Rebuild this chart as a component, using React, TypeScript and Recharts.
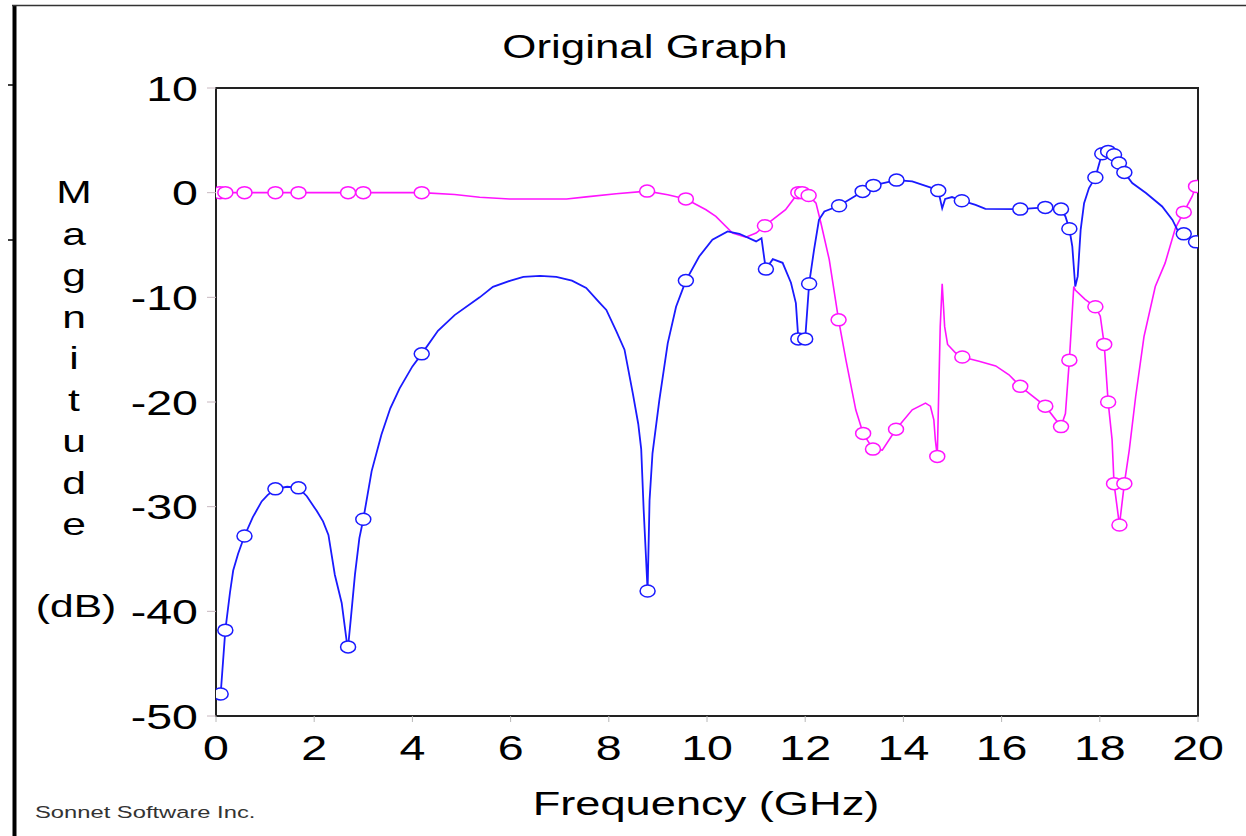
import { ReferenceArea, Scatter, ScatterChart, XAxis, YAxis } from 'recharts'

// [frequency GHz, magnitude dB, marker]
const blueTrace: [number, number, number][] = [
  [0.095, -47.9, 1], [0.19, -41.8, 1], [0.285, -38.2, 0], [0.35, -36.1, 0], [0.45, -34.5, 0],
  [0.58, -32.8, 1], [0.75, -31.0, 0], [0.93, -29.5, 0], [1.05, -28.9, 0], [1.21, -28.3, 1],
  [1.45, -28.1, 0], [1.68, -28.2, 1], [1.85, -29.0, 0], [2.05, -30.4, 0], [2.18, -31.4, 0],
  [2.29, -32.7, 0], [2.42, -36.5, 0], [2.56, -39.2, 0], [2.66, -42.8, 0], [2.69, -43.4, 1],
  [2.75, -40.5, 0], [2.83, -36.5, 0], [2.92, -33.0, 0], [3.0, -31.2, 1], [3.17, -26.6, 0],
  [3.37, -23.1, 0], [3.55, -20.6, 0], [3.74, -18.7, 0], [4.0, -16.6, 0], [4.19, -15.4, 1],
  [4.52, -13.2, 0], [4.86, -11.7, 0], [5.37, -10.0, 0], [5.64, -9.0, 0], [6.0, -8.4, 0],
  [6.26, -8.05, 0], [6.6, -7.95, 0], [6.93, -8.05, 0], [7.25, -8.4, 0], [7.54, -9.1, 0],
  [7.81, -10.5, 0], [7.95, -11.2, 0], [8.15, -13.2, 0], [8.32, -15.0, 0], [8.49, -19.2, 0],
  [8.6, -22.1, 0], [8.66, -24.5, 0], [8.71, -30.3, 0], [8.76, -35.1, 0], [8.79, -38.06, 1],
  [8.83, -29.4, 0], [8.89, -24.9, 0], [9.03, -19.8, 0], [9.2, -14.4, 0], [9.37, -10.9, 0],
  [9.57, -8.4, 1], [9.84, -6.1, 0], [10.11, -4.5, 0], [10.42, -3.7, 0], [10.66, -3.93, 0],
  [11.0, -4.66, 0], [11.11, -4.35, 0], [11.17, -6.4, 0], [11.2, -7.3, 1], [11.34, -6.35, 0],
  [11.54, -6.7, 0], [11.71, -8.6, 0], [11.81, -10.55, 0], [11.86, -13.97, 1], [12.0, -13.97, 1],
  [12.08, -8.7, 1], [12.18, -5.46, 0], [12.28, -2.6, 0], [12.39, -1.8, 0], [12.69, -1.25, 1],
  [13.17, 0.12, 1], [13.39, 0.69, 1], [13.86, 1.2, 1], [14.18, 1.07, 0], [14.59, 0.44, 0],
  [14.71, 0.2, 1], [14.79, -1.5, 0], [14.85, -0.6, 0], [14.99, -0.42, 0], [15.19, -0.77, 1],
  [15.47, -1.16, 0], [15.67, -1.55, 0], [16.38, -1.57, 1], [16.89, -1.41, 1], [17.21, -1.57, 1],
  [17.3, -2.27, 0], [17.38, -3.45, 1], [17.44, -5.14, 0], [17.47, -7.05, 0], [17.5, -8.97, 0],
  [17.55, -8.0, 0], [17.61, -3.55, 0], [17.68, -1.0, 0], [17.78, 0.44, 0], [17.91, 1.45, 1],
  [18.01, 3.14, 0], [18.05, 3.72, 1], [18.17, 3.94, 1], [18.29, 3.62, 1], [18.39, 2.83, 1],
  [18.5, 1.93, 1], [18.66, 0.92, 0], [18.94, -0.04, 0], [19.27, -1.32, 0], [19.48, -2.6, 0],
  [19.58, -3.55, 0], [19.71, -3.93, 1], [19.88, -4.5, 0], [19.96, -4.7, 1],
]

const pinkTrace: [number, number, number][] = [
  [0.08, 0, 1], [0.19, 0, 1], [0.58, 0, 1], [1.21, 0, 1], [1.68, 0, 1], [2.69, 0, 1],
  [3.0, 0, 1], [4.19, 0, 1], [4.86, -0.17, 0], [5.37, -0.44, 0], [5.98, -0.6, 0], [7.14, -0.6, 0],
  [7.54, -0.4, 0], [8.15, -0.1, 0], [8.78, 0.15, 1], [9.2, -0.2, 0], [9.57, -0.6, 1],
  [9.98, -1.63, 0], [10.18, -2.27, 0], [10.52, -3.86, 0], [10.79, -4.25, 0], [11.0, -3.86, 0],
  [11.18, -3.16, 1], [11.6, -1.63, 0], [11.86, 0, 1], [11.94, 0, 1], [12.07, -0.27, 1],
  [12.22, -1.0, 0], [12.32, -2.9, 0], [12.49, -6.4, 0], [12.68, -12.15, 1], [12.83, -16.0, 0],
  [13.03, -20.75, 0], [13.18, -23.0, 1], [13.38, -24.5, 1], [13.57, -24.6, 0], [13.85, -22.6, 1],
  [14.18, -20.75, 0], [14.45, -20.1, 0], [14.55, -20.4, 0], [14.62, -21.7, 0], [14.65, -23.6, 0],
  [14.69, -25.2, 1], [14.75, -12.8, 0], [14.79, -8.7, 0], [14.84, -12.8, 0], [14.9, -14.5, 0],
  [15.06, -15.3, 0], [15.2, -15.7, 1], [15.54, -16.1, 0], [15.88, -16.55, 0], [16.15, -17.4, 0],
  [16.38, -18.5, 1], [16.89, -20.4, 1], [17.21, -22.35, 1], [17.3, -21.1, 0], [17.38, -16.0, 1],
  [17.47, -8.97, 0], [17.5, -9.3, 0], [17.7, -10.2, 0], [17.91, -10.9, 1], [18.01, -11.8, 0],
  [18.09, -14.5, 1], [18.17, -20.0, 1], [18.25, -23.6, 0], [18.29, -27.8, 1], [18.4, -31.75, 1],
  [18.5, -27.8, 1], [18.6, -24.6, 0], [18.73, -19.5, 0], [18.9, -13.75, 0], [19.13, -8.97, 0],
  [19.33, -6.73, 0], [19.54, -3.38, 0], [19.71, -1.86, 1], [19.88, -0.36, 0], [19.96, 0.6, 1],
]

const xTicks = [0, 2, 4, 6, 8, 10, 12, 14, 16, 18, 20]
const yTicks = [-50, -40, -30, -20, -10, 0, 10]
const yLabelLetters = ['M', 'a', 'g', 'n', 'i', 't', 'u', 'd', 'e']

const FONT = '"Liberation Sans", Arial, sans-serif'
const STRETCH = 1.33
const BLUE = '#1a1aff'
const PINK = '#ff14ff'

const toRows = (t: [number, number, number][]) => t.map(([f, db, m]) => ({ f, db, m }))

const marker = (color: string) => (props: any) =>
  props.payload && props.payload.m ? (
    <ellipse cx={props.cx} cy={props.cy} rx={7.5} ry={6} fill="#fff" stroke={color} strokeWidth={1.5} />
  ) : (
    <g />
  )

const YTick = ({ x, y, payload }: any) => (
  <g transform={`translate(${x},${y})`}>
    <text transform={`scale(${STRETCH},1)`} textAnchor="end" dy="0.36em" fontSize={35} fontFamily={FONT} fill="#000">
      {payload.value}
    </text>
  </g>
)

const XTick = ({ x, y, payload }: any) => (
  <g transform={`translate(${x},${y})`}>
    <text transform={`scale(${STRETCH},1)`} textAnchor="middle" dy="0.71em" fontSize={35} fontFamily={FONT} fill="#000">
      {payload.value}
    </text>
  </g>
)

const Label = ({ x, y, size, children, anchor = 'middle', fill = '#000', k = STRETCH }: any) => (
  <g transform={`translate(${x},${y})`}>
    <text transform={`scale(${k},1)`} textAnchor={anchor} fontSize={size} fontFamily={FONT} fill={fill}>
      {children}
    </text>
  </g>
)

export default function App() {
  return (
    <div style={{ position: 'absolute', left: 0, top: 0, width: 1246, height: 836, background: '#fff' }}>
      <ScatterChart width={1246} height={836} margin={{ top: 88, right: 48, bottom: 60, left: 136 }}>
        <XAxis
          type="number"
          dataKey="f"
          domain={[0, 20]}
          ticks={xTicks}
          allowDataOverflow
          height={60}
          axisLine={false}
          tickLine={{ stroke: '#b8b8b8' }}
          tickSize={6}
          tickMargin={13}
          tick={<XTick />}
          interval={0}
        />
        <YAxis
          type="number"
          dataKey="db"
          domain={[-50, 10]}
          ticks={yTicks}
          allowDataOverflow
          width={80}
          axisLine={false}
          tickLine={{ stroke: '#c8b8c0' }}
          tickSize={9}
          tickMargin={9}
          tick={<YTick />}
          interval={0}
        />
        <Scatter
          data={toRows(pinkTrace)}
          line={{ stroke: PINK, strokeWidth: 1.6 }}
          lineType="joint"
          shape={marker(PINK)}
          isAnimationActive={false}
        />
        <Scatter
          data={toRows(blueTrace)}
          line={{ stroke: BLUE, strokeWidth: 1.8 }}
          lineType="joint"
          shape={marker(BLUE)}
          isAnimationActive={false}
        />
        <ReferenceArea x1={0} x2={20} y1={-50} y2={10} fill="none" fillOpacity={0} stroke="#222" strokeWidth={2} />
      </ScatterChart>
      <svg width={1246} height={836} style={{ position: 'absolute', left: 0, top: 0, pointerEvents: 'none' }}>
        <line x1={14.5} y1={5} x2={14.5} y2={836} stroke="#000" strokeWidth={4} />
        <line x1={12} y1={5.5} x2={1246} y2={5.5} stroke="#333" strokeWidth={1.5} />
        <line x1={8} y1={85} x2={14} y2={85} stroke="#000" strokeWidth={1.5} />
        <line x1={8} y1={240} x2={14} y2={240} stroke="#000" strokeWidth={1.5} />
        <Label x={645} y={58} size={33}>Original Graph</Label>
        <Label x={706} y={815} size={34}>Frequency (GHz)</Label>
        <Label x={35} y={818} size={16.5} anchor="start" fill="#333" k={1.44}>Sonnet Software Inc.</Label>
        {yLabelLetters.map((c, i) => (
          <Label key={i} x={74} y={203 + i * 41.5} size={32}>{c}</Label>
        ))}
        <Label x={76} y={617} size={32}>(dB)</Label>
      </svg>
    </div>
  )
}
